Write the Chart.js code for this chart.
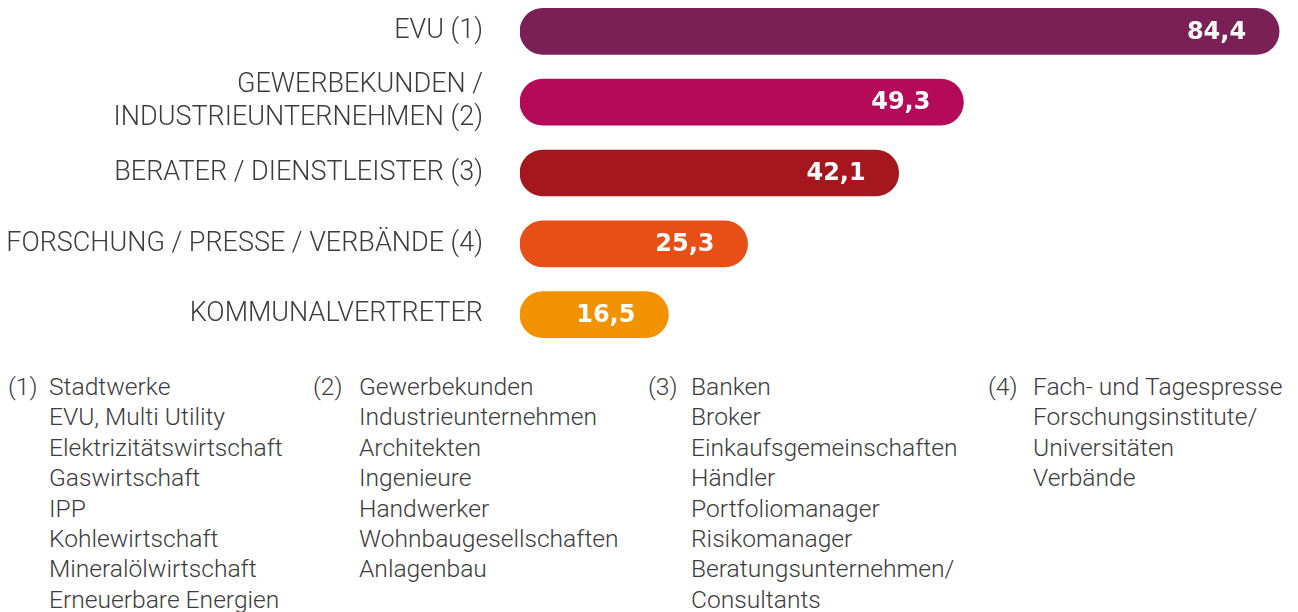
<!DOCTYPE html>
<html>
<head>
<meta charset="utf-8">
<script src="https://cdn.jsdelivr.net/npm/chart.js@4/dist/chart.umd.min.js"></script>
<style>
  html, body { margin: 0; padding: 0; background: #fff; }
  body { width: 1298px; height: 612px; position: relative; overflow: hidden; font-family: Roboto, sans-serif; }
  #wrap { position: absolute; left: 0; top: -4px; width: 1298px; height: 354px; }
  .note { position: absolute; top: 372px; font-weight: 300; font-size: 24.6px; line-height: 30.4px; color: #3c3c3c; }
  .note .num { position: absolute; left: 0; top: 0; }
  .note .items { position: absolute; top: 0; white-space: nowrap; }
</style>
</head>
<body>
<div id="wrap"><canvas id="groupChart"></canvas></div>
<div id="notes"></div>
<script>
const categories = [
  "EVU (1)",
  ["GEWERBEKUNDEN /", "INDUSTRIEUNTERNEHMEN (2)"],
  "BERATER / DIENSTLEISTER (3)",
  "FORSCHUNG / PRESSE / VERBÄNDE (4)",
  "KOMMUNALVERTRETER"
];
const values = [84.4, 49.3, 42.1, 25.3, 16.5];
const barColors = ["#7b1f57", "#b5095a", "#a6161e", "#e84f16", "#f39200"];

const notes1 = ["Stadtwerke", "EVU, Multi Utility", "Elektrizitätswirtschaft", "Gaswirtschaft", "IPP",
  "Kohlewirtschaft", "Mineralölwirtschaft", "Erneuerbare Energien"];
const notes2 = ["Gewerbekunden", "Industrieunternehmen", "Architekten", "Ingenieure", "Handwerker",
  "Wohnbaugesellschaften", "Anlagenbau"];
const notes3 = ["Banken", "Broker", "Einkaufsgemeinschaften", "Händler", "Portfoliomanager",
  "Risikomanager", "Beratungsunternehmen/", "Consultants"];
const notes4 = ["Fach- und Tagespresse", "Forschungsinstitute/", "Universitäten", "Verbände"];

// footnote columns: [marker, list, left, indent]
const noteCols = [
  ["(1)", notes1, 8, 41],
  ["(2)", notes2, 313, 46],
  ["(3)", notes3, 648, 43],
  ["(4)", notes4, 988, 45]
];

const notesEl = document.getElementById("notes");
noteCols.forEach(([mark, list, left, indent]) => {
  const div = document.createElement("div");
  div.className = "note";
  div.style.left = left + "px";
  div.innerHTML = `<span class="num">${mark}</span><div class="items" style="left:${indent}px">${list.join("<br>")}</div>`;
  notesEl.appendChild(div);
});

// white value labels inside the bar ends
const valueLabels = {
  id: "valueLabels",
  afterDatasetsDraw(chart) {
    const ctx = chart.ctx;
    const meta = chart.getDatasetMeta(0);
    ctx.save();
    ctx.fillStyle = "#ffffff";
    ctx.font = "bold 24px 'DejaVu Sans', sans-serif";
    ctx.textAlign = "right";
    ctx.textBaseline = "middle";
    meta.data.forEach((bar, i) => {
      const txt = values[i].toFixed(1).replace(".", ",");
      ctx.fillText(txt, bar.x - 33, bar.y + 1);
    });
    ctx.restore();
  }
};

const ctx = document.getElementById("groupChart").getContext("2d");
new Chart(ctx, {
  type: "bar",
  data: {
    labels: categories,
    datasets: [{
      data: values,
      backgroundColor: barColors,
      borderRadius: 23,
      borderSkipped: false,
      barThickness: 46
    }]
  },
  options: {
    indexAxis: "y",
    responsive: true,
    maintainAspectRatio: false,
    animation: false,
    layout: { padding: 0 },
    plugins: {
      legend: { display: false },
      tooltip: { enabled: false }
    },
    scales: {
      x: {
        display: false,
        min: 0,
        max: 86.5
      },
      y: {
        grid: { display: false, drawTicks: false },
        border: { display: false },
        afterFit(scale) {
          scale.width = 520;
          scale.paddingTop = 0;
          scale.paddingBottom = 0;
        },
        ticks: {
          padding: 37,
          color: "#3c3c3c",
          font: { family: "Roboto", weight: "300", size: 27, lineHeight: 1.22 }
        }
      }
    }
  },
  plugins: [valueLabels]
});
</script>
</body>
</html>
